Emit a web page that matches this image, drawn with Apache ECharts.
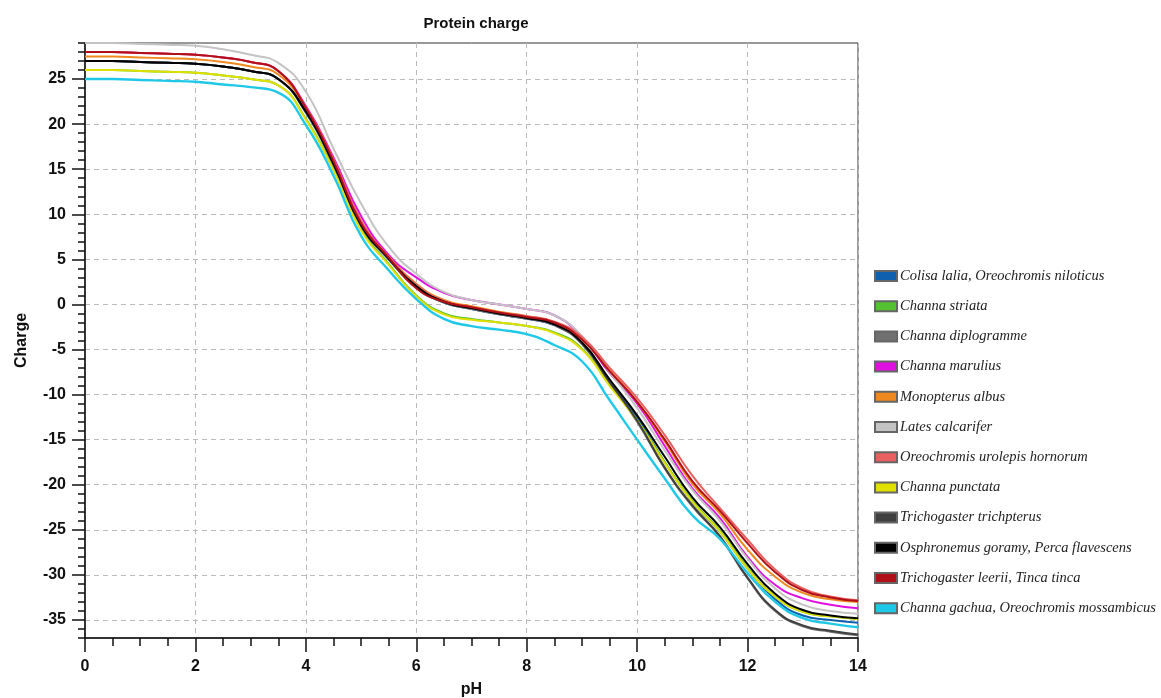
<!DOCTYPE html>
<html>
<head>
<meta charset="utf-8">
<script src="https://cdn.jsdelivr.net/npm/echarts@6/dist/echarts.min.js"></script>
<style>
  html, body { margin: 0; padding: 0; background: #fff; }
  #main { width: 1161px; height: 698px; }
</style>
</head>
<body>
<div id="main"></div>
<script>
// pH steps on the x axis
const ph = [0, 0.5, 1, 1.5, 2, 2.5, 3, 3.5, 4, 4.5, 5, 5.5, 6, 6.5, 7, 7.5, 8, 8.5, 9, 9.5, 10, 10.5, 11, 11.5, 12, 12.5, 13, 13.5, 14];

const names = [
  'Colisa lalia, Oreochromis niloticus',
  'Channa striata',
  'Channa diplogramme',
  'Channa marulius',
  'Monopterus albus',
  'Lates calcarifer',
  'Oreochromis urolepis hornorum',
  'Channa punctata',
  'Trichogaster trichpterus',
  'Osphronemus goramy, Perca flavescens',
  'Trichogaster leerii, Tinca tinca',
  'Channa gachua, Oreochromis mossambicus'
];

const colors = ['#1060b0', '#55c030', '#707070', '#e010e0', '#f08820', '#c4c4c4',
  '#e86060', '#e0e000', '#404040', '#000000', '#b01018', '#20c8e8'];

// charge values
const colisa = [27.0, 27.0, 26.9, 26.8, 26.7, 26.4, 25.9, 25.0, 21.3, 15.5, 8.7, 5.0, 2.0, 0.2, -0.5, -1.1, -1.6, -2.3, -4.3, -8.6, -12.6, -17.5, -21.9, -25.2, -29.3, -32.7, -34.5, -35.0, -35.3];
const striata = [26.0, 26.0, 25.9, 25.8, 25.7, 25.4, 25.0, 24.3, 20.6, 15.0, 8.3, 4.5, 1.0, -1.0, -1.6, -2.0, -2.4, -3.1, -4.9, -8.9, -12.8, -17.5, -21.8, -25.1, -29.2, -32.4, -34.1, -34.6, -34.9];
const diplogramme = [27.0, 27.0, 26.9, 26.8, 26.7, 26.4, 25.9, 25.0, 21.3, 15.5, 8.7, 5.0, 1.9, 0.2, -0.5, -1.1, -1.6, -2.3, -4.4, -8.7, -13.0, -18.2, -22.4, -25.8, -30.4, -34.0, -35.7, -36.3, -36.7];
const marulius = [28.0, 28.0, 27.9, 27.8, 27.7, 27.4, 26.9, 25.9, 22.0, 16.3, 9.8, 5.5, 3.0, 1.3, 0.5, 0.0, -0.5, -1.2, -3.6, -7.6, -11.0, -15.7, -20.4, -23.7, -28.0, -31.1, -32.6, -33.3, -33.7];
const monopterus = [27.5, 27.5, 27.4, 27.3, 27.2, 26.9, 26.4, 25.5, 21.7, 15.9, 9.1, 5.3, 2.3, 0.5, -0.2, -0.8, -1.3, -2.0, -3.8, -7.3, -10.8, -15.2, -19.9, -23.2, -27.2, -30.2, -32.0, -32.7, -33.0];
const lates = [29.0, 29.0, 28.9, 28.8, 28.7, 28.3, 27.7, 26.8, 23.6, 17.3, 11.2, 6.4, 3.4, 1.4, 0.5, 0.0, -0.5, -1.2, -3.5, -7.5, -11.5, -16.2, -20.6, -24.0, -28.2, -31.5, -33.3, -34.0, -34.3];
const urolepis = [28.0, 28.0, 27.9, 27.8, 27.7, 27.4, 26.9, 25.9, 21.9, 16.1, 9.3, 5.3, 2.2, 0.4, -0.3, -0.9, -1.3, -1.9, -3.6, -7.0, -10.4, -14.5, -19.0, -22.6, -26.1, -29.4, -31.5, -32.4, -32.8];
const punctata = [26.0, 26.0, 25.9, 25.8, 25.7, 25.4, 25.0, 24.3, 20.5, 14.9, 8.2, 4.4, 0.9, -1.1, -1.7, -2.0, -2.4, -3.2, -5.0, -9.0, -12.9, -17.6, -21.9, -25.2, -29.3, -32.4, -34.1, -34.6, -34.9];
const trichpterus = [27.0, 27.0, 26.9, 26.8, 26.7, 26.4, 25.9, 25.0, 21.4, 15.6, 8.8, 5.1, 2.0, 0.3, -0.4, -1.0, -1.5, -2.2, -4.3, -8.6, -12.9, -18.1, -22.3, -25.7, -30.3, -33.9, -35.6, -36.2, -36.6];
const osphronemus = [27.0, 27.0, 26.9, 26.8, 26.7, 26.4, 25.9, 25.0, 21.4, 15.6, 8.8, 5.1, 2.0, 0.3, -0.4, -1.0, -1.5, -2.2, -4.2, -8.3, -12.3, -16.9, -21.4, -24.7, -28.8, -32.1, -33.9, -34.5, -34.8];
const leerii = [28.0, 28.0, 27.9, 27.8, 27.7, 27.4, 26.9, 25.9, 21.8, 15.9, 9.0, 5.2, 1.8, 0.3, -0.3, -0.9, -1.4, -2.0, -3.9, -7.4, -10.8, -15.0, -19.6, -22.9, -26.5, -29.7, -31.7, -32.5, -32.9];
const gachua = [25.0, 25.0, 24.9, 24.8, 24.7, 24.4, 24.1, 23.5, 19.9, 14.3, 7.6, 3.8, 0.6, -1.6, -2.4, -2.8, -3.3, -4.5, -6.3, -10.6, -15.0, -19.3, -23.4, -26.0, -29.8, -33.0, -34.8, -35.4, -35.8];

const values = [colisa, striata, diplogramme, marulius, monopterus, lates,
  urolepis, punctata, trichpterus, osphronemus, leerii, gachua];

// y tick labels
const yLabels = [-35, -30, -25, -20, -15, -10, -5, 0, 5, 10, 15, 20, 25];

const chart = echarts.init(document.getElementById('main'));

const series = names.map(function (n, i) {
  return {
    name: n,
    type: 'line',
    yAxisIndex: 0,
    data: ph.map(function (x, k) { return [x, values[i][k]]; }),
    smooth: 0.5,
    showSymbol: false,
    symbol: 'none',
    color: colors[i],
    lineStyle: { width: i === 11 ? 2.4 : 2, color: colors[i] },
    itemStyle: { color: colors[i], borderColor: '#666', borderWidth: 1 },
    emphasis: { disabled: true }
  };
});

const option = {
  animation: false,
  backgroundColor: '#fff',
  title: {
    text: 'Protein charge',
    left: 471,
    top: 11,
    textAlign: 'center',
    textStyle: { fontFamily: 'Liberation Sans', fontWeight: 'bold', fontSize: 15, color: '#111' }
  },
  legend: {
    orient: 'vertical',
    left: 869,
    top: 263,
    itemGap: 14.2,
    itemWidth: 22,
    itemHeight: 10,
    icon: 'rect',
    data: names,
    textStyle: { fontFamily: 'Liberation Serif', fontStyle: 'italic', fontSize: 14.5, lineHeight: 16, color: '#222', padding: [0, 0, 0, -2] }
  },
  grid: {
    left: 85, right: 303, top: 43, bottom: 60,
    outerBoundsMode: 'none',
    containLabel: false,
    show: true, borderColor: '#333', borderWidth: 1, backgroundColor: 'transparent'
  },
  xAxis: {
    type: 'value',
    min: 0, max: 14, interval: 2,
    name: 'pH',
    nameLocation: 'middle',
    nameGap: 44,
    nameTextStyle: { fontFamily: 'Liberation Sans', fontWeight: 'bold', fontSize: 16, color: '#111' },
    axisLine: { show: true, onZero: false, lineStyle: { color: '#111', width: 1.5 } },
    axisTick: { show: true, inside: false, length: 14, lineStyle: { color: '#111', width: 1.5 } },
    minorTick: { show: true, splitNumber: 4, length: 8, lineStyle: { color: '#111', width: 1.5 } },
    axisLabel: { margin: 21, fontFamily: 'Liberation Sans', fontWeight: 'bold', fontSize: 16, color: '#111' },
    splitLine: { show: true, lineStyle: { color: '#bbb', type: [5, 4], width: 1 } }
  },
  yAxis: [
    {
      type: 'value',
      min: -37, max: 29, interval: 1,
      name: 'Charge',
      nameLocation: 'middle',
      nameGap: 55,
      nameTextStyle: { fontFamily: 'Liberation Sans', fontWeight: 'bold', fontSize: 16, color: '#111' },
      axisLine: { show: true, onZero: false, lineStyle: { color: '#111', width: 1.5 } },
      axisTick: { show: true, length: 7, lineStyle: { color: '#111', width: 1.5 } },
      axisLabel: {
        margin: 19,
        fontFamily: 'Liberation Sans', fontWeight: 'bold', fontSize: 16, color: '#111',
        formatter: function (v) { return yLabels.indexOf(v) >= 0 ? String(v) : ''; }
      },
      splitLine: {
        show: true,
        lineStyle: { color: ['transparent', 'transparent', '#bbb', 'transparent', 'transparent'], type: [5, 4], width: 1 }
      }
    },
    {
      type: 'value',
      min: -37, max: 29,
      position: 'left',
      axisLine: { show: false },
      axisTick: { show: true, length: 13, customValues: yLabels, lineStyle: { color: '#111', width: 1.5 } },
      axisLabel: { show: false },
      splitLine: { show: false }
    }
  ],
  series: series
};

chart.setOption(option);
</script>
</body>
</html>
